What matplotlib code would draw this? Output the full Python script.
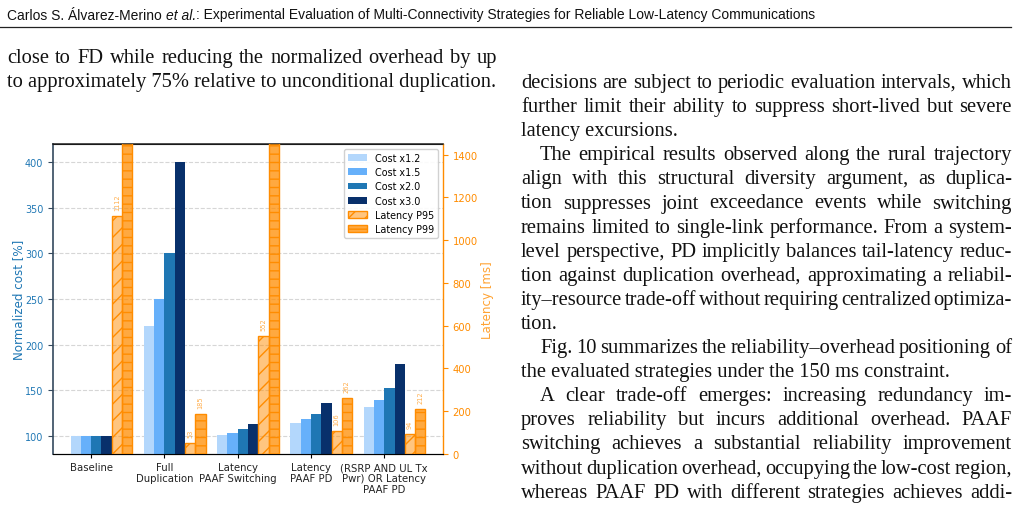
import matplotlib
matplotlib.use('Agg')
import matplotlib.pyplot as plt
import numpy as np
from matplotlib import font_manager as fm
from matplotlib.lines import Line2D
from matplotlib.patches import Patch

# ---------------- data ----------------
categories = ['Baseline', 'Full\nDuplication', 'Latency\nPAAF Switching',
              'Latency\nPAAF PD', '(RSRP AND UL Tx\nPwr) OR Latency\nPAAF PD']
cost_x12 = [100, 220, 101, 114, 132]
cost_x15 = [100, 250, 103, 118, 139]
cost_x20 = [100, 300, 107, 124, 152]
cost_x30 = [100, 400, 113, 136, 179]
lat_p95 = [1112, 53, 552, 106, 94]
lat_p99 = [1900, 185, 1700, 262, 212]   # two values exceed the axis (clipped)
cost_labels = ['Cost x1.2', 'Cost x1.5', 'Cost x2.0', 'Cost x3.0']
lat_labels = ['Latency P95', 'Latency P99']

header_text = ('Carlos S. Álvarez-Merino ', 'et al.',
               ': Experimental Evaluation of Multi-Connectivity Strategies for Reliable Low-Latency Communications')

left_lines = [
    ("close to FD while reducing the normalized overhead by up", True, False),
    ("to approximately 75% relative to unconditional duplication.", False, False),
]
right_lines = [
    ("decisions are subject to periodic evaluation intervals, which", True, False),
    ("further limit their ability to suppress short-lived but severe", True, False),
    ("latency excursions.", False, False),
    ("The empirical results observed along the rural trajectory", True, True),
    ("align with this structural diversity argument, as duplica-", True, False),
    ("tion suppresses joint exceedance events while switching", True, False),
    ("remains limited to single-link performance. From a system-", True, False),
    ("level perspective, PD implicitly balances tail-latency reduc-", True, False),
    ("tion against duplication overhead, approximating a reliabil-", True, False),
    ("ity\u2013resource trade-off without requiring centralized optimiza-", True, False),
    ("tion.", False, False),
    ("Fig. 10 summarizes the reliability\u2013overhead positioning of", True, True),
    ("the evaluated strategies under the 150 ms constraint.", False, False),
    ("A clear trade-off emerges: increasing redundancy im-", True, True),
    ("proves reliability but incurs additional overhead. PAAF", True, False),
    ("switching achieves a substantial reliability improvement", True, False),
    ("without duplication overhead, occupying the low-cost region,", True, False),
    ("whereas PAAF PD with different strategies achieves addi-", True, False),
]

# ---------------- figure ----------------
W, H = 1019, 510
fig = plt.figure(figsize=(W / 100, H / 100), dpi=100)
fig.patch.set_facecolor('white')
renderer = fig.canvas.get_renderer()

def fx(px):
    return px / W

def fy(py):
    return 1 - py / H

def tw(s, fp):
    return renderer.get_text_width_height_descent(s, fp, ismath=False)[0]

# header
def has_font(name):
    try:
        fm.findfont(fm.FontProperties(family=name), fallback_to_default=False)
        return True
    except Exception:
        return False

hdr_family = 'Liberation Sans Narrow' if has_font('Liberation Sans Narrow') else 'Liberation Sans'
hdr_target = 805.0
fp_h = fm.FontProperties(family=hdr_family, size=10)
fp_hi = fm.FontProperties(family=hdr_family, style='italic', size=10)
tot = sum(tw(s, fp_hi if i == 1 else fp_h) for i, s in enumerate(header_text))
hsize = 10 * hdr_target / tot
fp_h.set_size(hsize)
fp_hi.set_size(hsize)
x = 7.0
for i, s in enumerate(header_text):
    fp = fp_hi if i == 1 else fp_h
    fig.text(fx(x), fy(19.5), s, fontproperties=fp, va='baseline', ha='left', color='#111111')
    x += tw(s, fp)
fig.add_artist(Line2D([0, fx(1011)], [fy(28), fy(28)], color='#222222', lw=0.9,
                      transform=fig.transFigure))

# body text: size chosen so that a known unjustified line has its reference width
fp_body = fm.FontProperties(family='Liberation Serif', size=10)
ref_w = tw("the evaluated strategies under the 150 ms constraint.", fp_body)
fp_body.set_size(10 * 431.0 / ref_w)

def draw_line(text, x0, x1, ybase, justify):
    if not justify:
        fig.text(fx(x0), fy(ybase), text, fontproperties=fp_body, va='baseline',
                 ha='left', color='#111111')
        return
    words = text.split(' ')
    widths = [tw(w, fp_body) for w in words]
    gap = (x1 - x0 - sum(widths)) / (len(words) - 1)
    x = x0
    for w, wd in zip(words, widths):
        fig.text(fx(x), fy(ybase), w, fontproperties=fp_body, va='baseline', ha='left',
                 color='#111111')
        x += wd + gap

indent = 19
for i, (t, j, ind) in enumerate(left_lines):
    draw_line(t, 7 + (indent if ind else 0), 497, 63 + 24.1 * i, j)
for i, (t, j, ind) in enumerate(right_lines):
    draw_line(t, 521 + (indent if ind else 0), 1012, 88 + 24.1 * i, j)

# ---------------- chart ----------------
ax = fig.add_axes([fx(53), 55 / H, 390 / W, 310 / H])
ax2 = ax.twinx()

xpos = np.arange(len(categories))
w = 0.14
cost_colors = ['#b3d7fc', '#66b0fa', '#1f77b4', '#08306b']
cost_series = [cost_x12, cost_x15, cost_x20, cost_x30]
for k, (vals, col, lab) in enumerate(zip(cost_series, cost_colors, cost_labels)):
    ax.bar(xpos + (k - 1.5) * w, vals, w, color=col, label=lab, zorder=3)

orange = '#ff8c00'
p95 = ax2.bar(xpos + 2.5 * w, lat_p95, w, facecolor=(1.0, 0.55, 0.0, 0.5), edgecolor=orange,
              hatch='//', linewidth=1.0, label=lat_labels[0], zorder=3)
p99 = ax2.bar(xpos + 3.5 * w, lat_p99, w, facecolor=(1.0, 0.55, 0.0, 0.75), edgecolor=orange,
              hatch='--', linewidth=1.0, label=lat_labels[1], zorder=3)

lat_top = 1450
ax.set_ylim(80, 420)
ax2.set_ylim(0, lat_top)
ax.set_yticks(np.arange(100, 401, 50))
ax2.set_yticks(np.arange(0, 1401, 200))

# value labels (only those that fall inside the plot, as in the reference)
for offs, series in ((2.5, lat_p95), (3.5, lat_p99)):
    for xb, v in zip(xpos + offs * w, series):
        if v + 28 < lat_top - 100:
            ax2.text(xb, v + 28, str(v), rotation=90, ha='center', va='bottom',
                     fontsize=4.8, color=orange, alpha=0.7)

ax.set_xticks(xpos)
ax.set_xticklabels(categories, fontsize=7.3, color='#222222', linespacing=1.1)
ax.tick_params(axis='x', length=3, width=0.8, pad=3)
ax.tick_params(axis='y', labelsize=6.9, labelcolor='#1f77b4', color='#34495e', length=3.5)
ax2.tick_params(axis='y', labelsize=7.2, labelcolor=orange, color=orange, length=3.5)
ax.set_ylabel('Normalized cost [%]', color='#1f77b4', fontsize=8.6, labelpad=0)
ax2.set_ylabel('Latency [ms]', color=orange, fontsize=8.6, labelpad=2, alpha=0.8)

ax.yaxis.grid(True, linestyle='--', color='#cccccc', linewidth=0.8, alpha=0.8, zorder=0)
ax.set_axisbelow(True)
ax.spines['left'].set_color('#34495e')
ax.spines['left'].set_linewidth(1.2)
ax.spines['right'].set_visible(False)
ax2.spines['left'].set_visible(False)
ax2.spines['right'].set_color(orange)
ax2.spines['right'].set_linewidth(1.0)
ax2.spines['top'].set_color('#222222')
ax2.spines['top'].set_linewidth(1.1)
ax.spines['bottom'].set_color('#222222')

handles = [Patch(facecolor=c, label=l) for c, l in zip(cost_colors, cost_labels)]
handles += [p95, p99]
leg = ax2.legend(handles=handles, loc='upper right', fontsize=6.9, framealpha=0.9,
                 edgecolor='#cccccc', fancybox=True, labelspacing=0.45,
                 handlelength=2.0, handletextpad=0.8)

fig.savefig('out.png', dpi=100)
